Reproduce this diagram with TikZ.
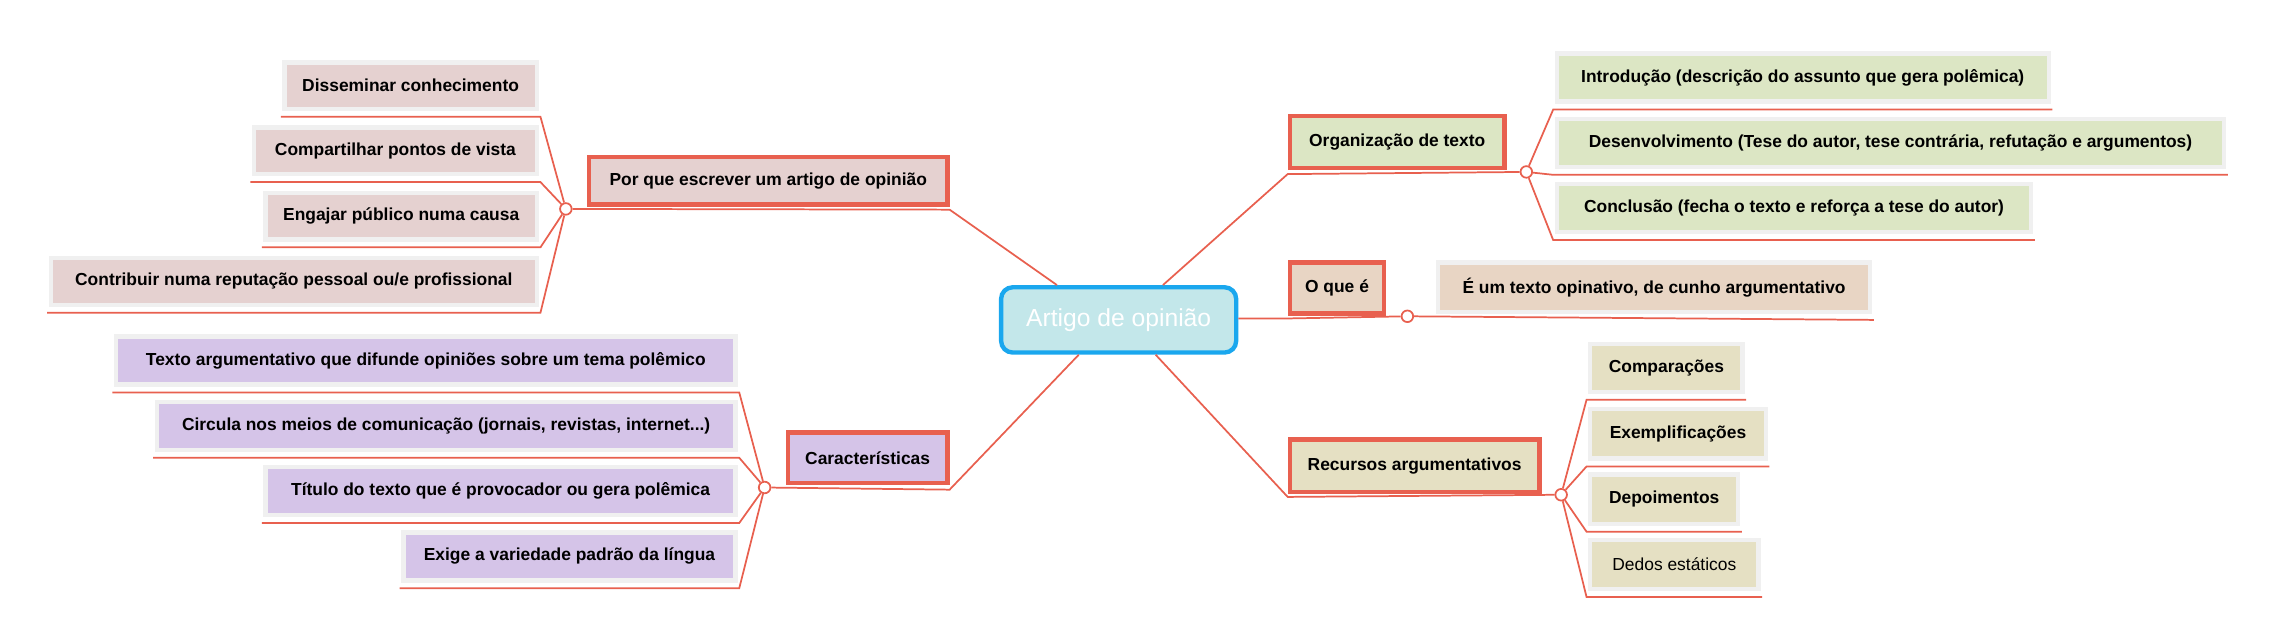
\documentclass[tikz,border=0pt]{standalone}
\usepackage{fontspec}
\setmainfont{Liberation Sans}
\usetikzlibrary{calc}
\definecolor{linkred}{HTML}{E8604F}
\definecolor{pinkfill}{HTML}{E5D1D0}
\definecolor{purplefill}{HTML}{D5C4E8}
\definecolor{greenfill}{HTML}{DCE6C4}
\definecolor{tanfill}{HTML}{E8D5C4}
\definecolor{beigefill}{HTML}{E5E0C3}
\definecolor{centerfill}{HTML}{C3E7EA}
\definecolor{centerline}{HTML}{1AA7EE}
\tikzset{
  link/.style={draw=linkred, line width=0.6pt},
  topic/.style={draw=linkred, line width=1.5pt, inner sep=0pt, font=\fontsize{6}{7}\selectfont\bfseries},
  leaf/.style={draw=black!6, line width=1.5pt, inner sep=0pt, font=\fontsize{6}{7}\selectfont\bfseries},
  hub/.style={circle, draw=linkred, fill=white, line width=0.6pt, inner sep=0pt, minimum size=4pt}
}
% box from corners (x1,y1) to (x2,y2)
\newcommand\boxat[7]{\node[#6, minimum width={(#4-#2)*0.5pt}, minimum height={(#5-#3)*0.5pt}] (#1) at ({(#2+#4)/2},{(#3+#5)/2}) {#7};}
\begin{document}
\begin{tikzpicture}[x=0.5pt, y=-0.5pt]
	\useasboundingbox (0,0) rectangle (1568,442);
	
	% center
	\node[draw=centerline, fill=centerfill, line width=1.5pt, rounded corners=4pt, text=white,
	      font=\fontsize{8.5}{10}\selectfont, minimum width=81pt, minimum height=22.5pt] (center) at (771,220.5) {Artigo de opinião};
	
	% left topics
	\boxat{why}{406}{108}{653}{141}{topic, fill=pinkfill}{Por que escrever um artigo de opinião}
	\boxat{feat}{543}{298}{653}{333}{topic, fill=purplefill}{Características}
	\node[hub] (whyhub) at (390,144) {};
	\node[hub] (feathub) at (527,336) {};
	\draw[link] (center.north west) ++(40,0) coordinate (c1) -- ($(why.south east)+(0,2)$) -- (whyhub);
	\draw[link] (center.south west) ++(55,0) coordinate (c2) -- ($(feat.south east)+(0,3)$) -- (feathub);
	
	% right topics
	\boxat{org}{889}{80}{1037}{116}{topic, fill=greenfill}{Organização de texto}
	\boxat{what}{889}{181}{954}{216}{topic, fill=tanfill}{O que é}
	\boxat{res}{889}{303}{1061}{339}{topic, fill=beigefill}{Recursos argumentativos}
	\node[hub] (orghub) at (1052,118.5) {};
	\node[hub] (whathub) at (970,218) {};
	\node[hub] (reshub) at (1076,341) {};
	\draw[link] (center.north east) ++(-52,0) coordinate (c3) -- ($(org.south west)+(0,2.5)$) -- (orghub);
	\draw[link] (center.east) ++(0,-1) coordinate (c4) -- ($(what.south west)+(0,2)$) -- (whathub);
	\draw[link] (center.south east) ++(-57,0) coordinate (c5) -- ($(res.south west)+(0,2)$) -- (reshub);
	
	% leaves of "Por que"
	\boxat{w1}{196}{43}{370}{75}{leaf, fill=pinkfill}{Disseminar conhecimento}
	\boxat{w2}{175}{88}{370}{120}{leaf, fill=pinkfill}{Compartilhar pontos de vista}
	\boxat{w3}{183}{133}{370}{165}{leaf, fill=pinkfill}{Engajar público numa causa}
	\boxat{w4}{35}{178}{370}{210}{leaf, fill=pinkfill}{Contribuir numa reputação pessoal ou/e profissional}
	\foreach \n in {w1,w2,w3,w4}
		\draw[link] (whyhub) -- ($(\n.south east)+(1,4)$) -- ($(\n.south west)+(-1,4)$);
	
	% leaves of "Características"
	\boxat{f1}{80}{232}{507}{265}{leaf, fill=purplefill}{Texto argumentativo que difunde opiniões sobre um tema polêmico}
	\boxat{f2}{108}{277}{507}{310}{leaf, fill=purplefill}{Circula nos meios de comunicação (jornais, revistas, internet...)}
	\boxat{f3}{183}{322}{507}{355}{leaf, fill=purplefill}{Título do texto que é provocador ou gera polêmica}
	\boxat{f4}{278}{367}{507}{400}{leaf, fill=purplefill}{Exige a variedade padrão da língua}
	\foreach \n in {f1,f2,f3,f4}
		\draw[link] (feathub) -- ($(\n.south east)+(1,4)$) -- ($(\n.south west)+(-1,4)$);
	
	% leaves of "Organização"
	\boxat{o1}{1073}{37}{1412}{70}{leaf, fill=greenfill}{Introdução (descrição do assunto que gera polêmica)}
	\boxat{o2}{1073}{82}{1533}{115}{leaf, fill=greenfill}{Desenvolvimento (Tese do autor, tese contrária, refutação e argumentos)}
	\boxat{o3}{1073}{127}{1400}{160}{leaf, fill=greenfill}{Conclusão (fecha o texto e reforça a tese do autor)}
	\foreach \n in {o1,o2,o3}
		\draw[link] (orghub) -- ($(\n.south west)+(-1,4)$) -- ($(\n.south east)+(1,4)$);
	
	% leaf of "O que é"
	\boxat{q1}{991}{181}{1289}{215}{leaf, fill=tanfill}{É um texto opinativo, de cunho argumentativo}
	\draw[link] (whathub) -- ($(q1.south east)+(1,4)$);
	
	% leaves of "Recursos"
	\boxat{r1}{1096}{237}{1201}{270}{leaf, fill=beigefill}{Comparações}
	\boxat{r2}{1096}{282}{1217}{316}{leaf, fill=beigefill}{Exemplificações}
	\boxat{r3}{1096}{327}{1198}{361}{leaf, fill=beigefill}{Depoimentos}
	\boxat{r4}{1096}{372}{1212}{406}{leaf, fill=beigefill, font=\fontsize{6}{7}\selectfont}{Dedos estáticos}
	\foreach \n in {r1,r2,r3,r4}
		\draw[link] (reshub) -- ($(\n.south west)+(-1,4)$) -- ($(\n.south east)+(1,4)$);
	
\end{tikzpicture}
\end{document}
